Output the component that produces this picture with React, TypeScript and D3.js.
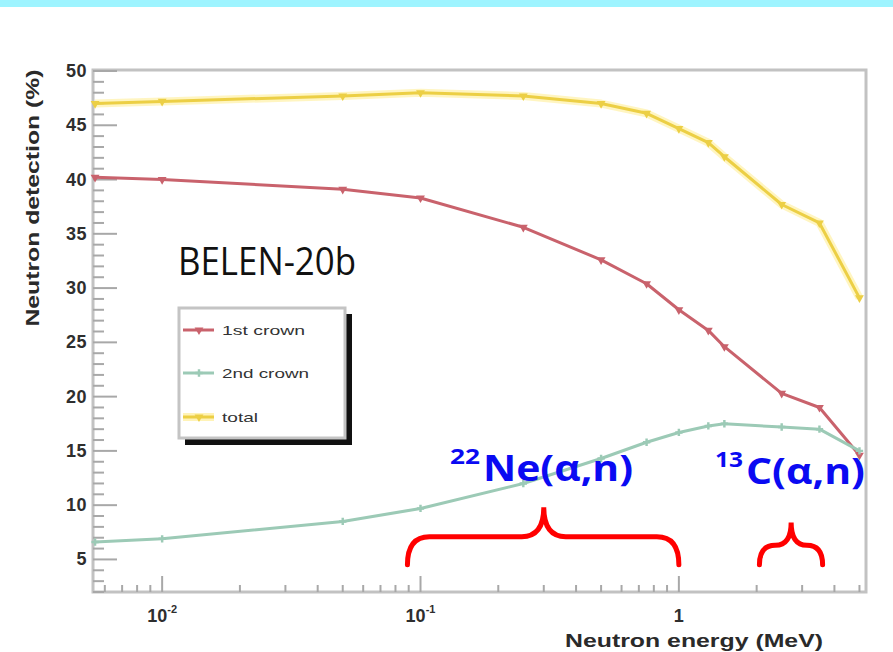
import React from 'react';
import * as d3 from 'd3';

// ---- data ----
const energies = [0.0055, 0.01, 0.05, 0.1, 0.25, 0.5, 0.75, 1, 1.3, 1.5, 2.5, 3.5, 5];
const firstCrown = [40.2, 40.0, 39.1, 38.3, 35.6, 32.6, 30.4, 28.0, 26.1, 24.6, 20.3, 19.0, 14.6];
const secondCrown = [6.6, 6.9, 8.5, 9.7, 12.0, 14.3, 15.8, 16.7, 17.3, 17.5, 17.2, 17.0, 15.0];
const totalEff = [47.0, 47.2, 47.7, 48.0, 47.7, 47.0, 46.1, 44.7, 43.4, 42.1, 37.7, 36.0, 29.1];

const seriesNames = ['1st crown', '2nd crown', 'total'];
const seriesColors = ['#c9626c', '#9ccab6', '#eccf45'];
const yMajorTicks = [5, 10, 15, 20, 25, 30, 35, 40, 45, 50];
const xMajorTicks = [0.01, 0.1, 1];
const xTickBase = ['10', '10', '1'];
const xTickExp = ['-2', '-1', ''];

const xTitle = 'Neutron energy (MeV)';
const yTitle = 'Neutron detection (%)';
const plotLabel = 'BELEN-20b';

// annotation braces in data space: [xStart, xEnd, xTip, yBase, yMid, yTip]
const braceNe = [0.089, 1.0, 0.3, 4.5, 7.1, 9.8];
const braceC = [2.05, 3.6, 2.72, 4.5, 6.3, 8.4];

export default function App() {
  const W = 893;
  const H = 652;
  const x = d3.scaleLog().domain([0.0054, 5.3]).range([93, 866]);
  const y = d3.scaleLinear().domain([2, 50]).range([592, 71]);

  const series = [firstCrown, secondCrown, totalEff];
  const line = d3
    .line<number>()
    .x((_, i) => x(energies[i]))
    .y((d) => y(d));

  const tri = d3.symbol().type(d3.symbolTriangle).size(34)();
  const cross = d3.symbol().type(d3.symbolCross).size(30)();
  const markerPaths = [tri, cross, tri];

  const xTicks = x.ticks();
  const isMajorX = (v: number) => Math.abs(Math.log10(v) - Math.round(Math.log10(v))) < 1e-6;
  const yTicks = d3.range(2, 51);

  const bracePath = (b: number[], r0: number) => {
    const L = x(b[0]);
    const R = x(b[1]);
    const T = x(b[2]);
    const yb = y(b[3]);
    const ym = y(b[4]);
    const yt = y(b[5]);
    const r = Math.min(r0, (T - L) / 2, (R - T) / 2);
    return `M${L},${yb} Q${L},${ym} ${L + r},${ym} L${T - r},${ym} Q${T},${ym} ${T},${yt} Q${T},${ym} ${T + r},${ym} L${R - r},${ym} Q${R},${ym} ${R},${yb}`;
  };

  const legendRows = [330, 373, 417];

  return (
    <svg
      width={W}
      height={H}
      style={{ position: 'absolute', left: 0, top: 0, background: '#fff' }}
      fontFamily="'Liberation Sans', Arial, sans-serif"
    >
      <rect x={0} y={0} width={W} height={H} fill="#fff" />
      <rect x={0} y={0} width={W} height={7} fill="#9ef4ff" />

      {/* frame */}
      <rect x={x.range()[0]} y={y.range()[1] - 1} width={x.range()[1] - x.range()[0]} height={y.range()[0] - y.range()[1] + 1} fill="none" stroke="#c2c2c2" strokeWidth={3} />

      {/* y ticks */}
      {yTicks.map((v) => {
        const major = v % 5 === 0;
        return (
          <line key={'yt' + v} x1={x.range()[0]} x2={x.range()[0] + (major ? 24 : 11)} y1={y(v)} y2={y(v)} stroke="#a8a8a8" strokeWidth={2} />
        );
      })}
      {yMajorTicks.map((v) => (
        <text key={'yl' + v} x={87} y={y(v)} textAnchor="end" dominantBaseline="central" fontSize={18} fontWeight="bold" fill="#2e2e2e" letterSpacing={0.5}>
          {v}
        </text>
      ))}

      {/* x ticks */}
      {xTicks.map((v, i) => {
        const major = isMajorX(v);
        return (
          <line key={'xt' + i} x1={x(v)} x2={x(v)} y1={y.range()[0]} y2={y.range()[0] - (major ? 16 : 7)} stroke="#a8a8a8" strokeWidth={2} />
        );
      })}
      {xMajorTicks.map((v, i) => (
        <text key={'xl' + i} x={x(v)} y={622} textAnchor="middle" fontSize={18} fontWeight="bold" fill="#2e2e2e">
          {xTickBase[i]}
          {xTickExp[i] && (
            <tspan fontSize={11} dy={-9}>
              {xTickExp[i]}
            </tspan>
          )}
        </text>
      ))}

      {/* axis titles */}
      <text x={694} y={647} textAnchor="middle" fontSize={19} fontWeight="bold" fill="#2a2a2a" textLength={258} lengthAdjust="spacingAndGlyphs">
        {xTitle}
      </text>
      <text transform="translate(39,198) rotate(-90)" textAnchor="middle" fontSize={19} fontWeight="bold" fill="#2a2a2a" textLength={257} lengthAdjust="spacingAndGlyphs">
        {yTitle}
      </text>

      {/* series */}
      <path d={line(totalEff) || ''} fill="none" stroke="#fff1a6" strokeWidth={8} strokeLinejoin="round" opacity={0.7} />
      {series.map((s, k) => (
        <g key={'s' + k}>
          <path d={line(s) || ''} fill="none" stroke={seriesColors[k]} strokeWidth={3} strokeLinejoin="round" />
          {s.map((v, i) => (
            <path key={i} d={markerPaths[k] || ''} transform={`translate(${x(energies[i])},${y(v)}) rotate(${k === 1 ? 0 : 180})`} fill={seriesColors[k]} />
          ))}
        </g>
      ))}

      {/* legend */}
      <rect x={185} y={314} width={167} height={131} fill="#111" />
      <rect x={179} y={308} width={166} height={130} fill="#fff" stroke="#c4c4c4" strokeWidth={3} />
      {seriesNames.map((n, k) => (
        <g key={'lg' + k}>
          {k === 2 && <line x1={183} x2={214} y1={legendRows[k]} y2={legendRows[k]} stroke="#fff1a6" strokeWidth={8} opacity={0.8} />}
          <line x1={183} x2={214} y1={legendRows[k]} y2={legendRows[k]} stroke={seriesColors[k]} strokeWidth={3} />
          <path d={markerPaths[k] || ''} transform={`translate(199,${legendRows[k]}) rotate(${k === 1 ? 0 : 180})`} fill={seriesColors[k]} />
          <text x={222} y={legendRows[k]} dominantBaseline="central" fontSize={13} fill="#333" textLength={[83, 87, 36][k]} lengthAdjust="spacingAndGlyphs">
            {n}
          </text>
        </g>
      ))}

      {/* label */}
      <text x={178} y={275} fontSize={38} fontFamily="'Open Sans', sans-serif" fill="#111" textLength={178} lengthAdjust="spacingAndGlyphs">
        {plotLabel}
      </text>

      {/* annotations */}
      <g fill="#0a0af2" fontFamily="'Open Sans', sans-serif" fontWeight="bold">
        <text x={450} y={464} fontSize={22} textLength={30} lengthAdjust="spacingAndGlyphs">22</text>
        <text x={483} y={481} fontSize={36} textLength={150} lengthAdjust="spacingAndGlyphs">Ne(α,n)</text>
        <text x={715} y={467} fontSize={22} textLength={28} lengthAdjust="spacingAndGlyphs">13</text>
        <text x={746} y={484} fontSize={36} textLength={119} lengthAdjust="spacingAndGlyphs">C(α,n)</text>
      </g>
      <path d={bracePath(braceNe, 22)} fill="none" stroke="#ff0000" strokeWidth={5} strokeLinecap="round" />
      <path d={bracePath(braceC, 22)} fill="none" stroke="#ff0000" strokeWidth={5} strokeLinecap="round" />
    </svg>
  );
}
